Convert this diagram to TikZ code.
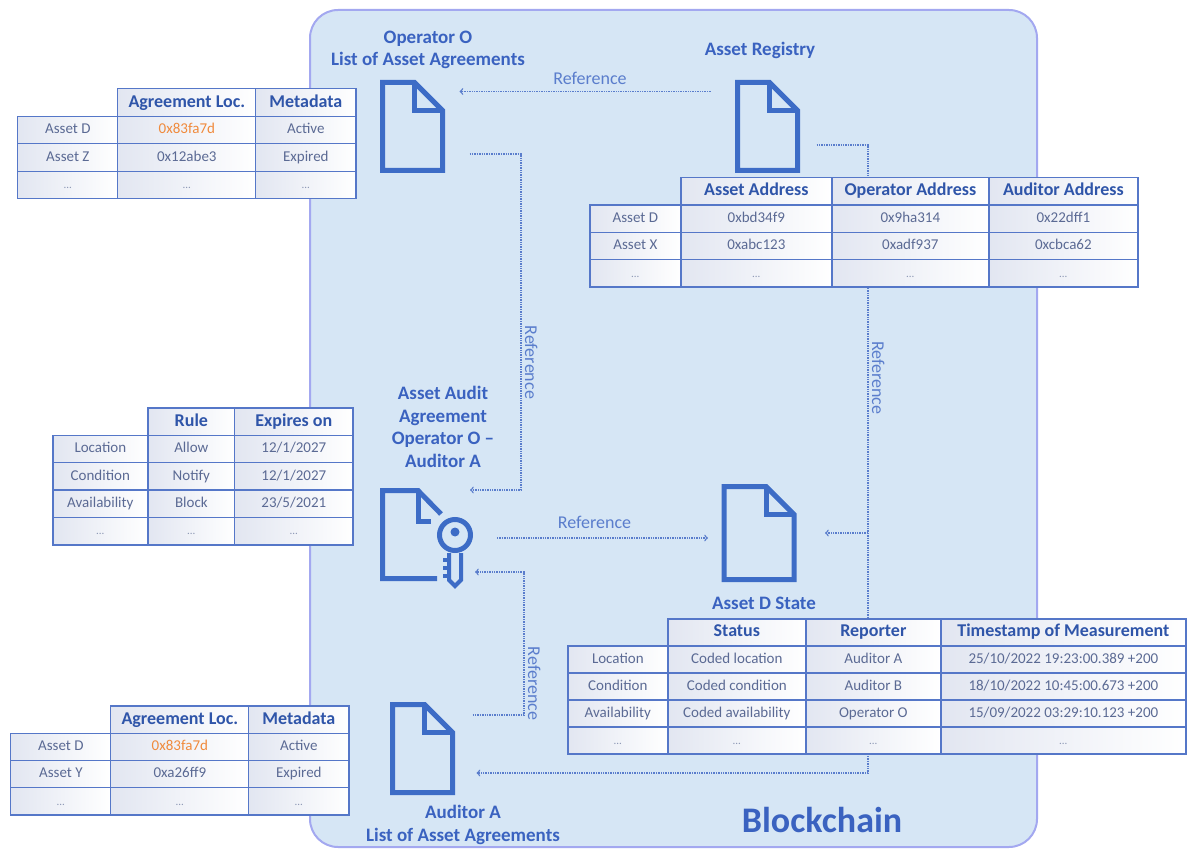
\documentclass[tikz,border=0pt]{standalone}
\usepackage{fontspec}
\setmainfont{Carlito}
\usetikzlibrary{matrix}

\definecolor{chainfill}{HTML}{D6E6F5}
\definecolor{chainedge}{HTML}{A3A8F0}
\definecolor{docblue}{HTML}{3D6CC6}
\definecolor{labelblue}{HTML}{3A62C0}
\definecolor{refblue}{HTML}{5A7DCC}
\definecolor{tabline}{HTML}{5577C8}
\definecolor{headtext}{HTML}{2F55A9}
\definecolor{celltext}{HTML}{5B6A94}
\definecolor{cellshade}{HTML}{E2E6F1}
\definecolor{accent}{HTML}{F08A3C}

\begin{document}
\begin{tikzpicture}[x=1pt,y=-1pt,
  docline/.style={draw=docblue,line width=5pt,line join=miter},
  docbox/.style={minimum width=60pt,minimum height=88pt,inner sep=0pt,outer sep=0pt},
  refline/.style={draw=refblue,line width=1.4pt,densely dotted},
  reftext/.style={text=refblue,font=\fontsize{18}{21}\selectfont},
  doctitle/.style={text=labelblue,font=\bfseries\fontsize{19}{22.5}\selectfont,align=center},
  cell/.style={draw=tabline,line width=1.3pt,left color=cellshade,right color=white,inner sep=0pt,anchor=center,
    text height=10.5pt,text depth=3pt,text=celltext,font=\fontsize{15}{18}\selectfont},
  infotable/.style={matrix of nodes,inner sep=0pt,anchor=north west,column sep=-1.3pt,row sep=-1.3pt,nodes={cell},
    row 1/.style={nodes={text=headtext,text height=12.5pt,text depth=3.5pt,font=\bfseries\fontsize{18}{21}\selectfont}}},
  dots/.style={nodes={font=\fontsize{11}{13}\selectfont,text=celltext!70}},
]
\useasboundingbox (0,0) rectangle (1189,850);
\draw[fill=chainfill,draw=chainedge,line width=2pt,rounded corners=28pt] (310,10) rectangle (1037,847);

% documents
\node[docbox] (opdoc) at (412.5,126.5) {};
\node[docbox] (regdoc) at (767.5,126.5) {};
\node[docbox,minimum width=70pt,minimum height=93pt] (statedoc) at (759,533) {};
\node[docbox] (audoc) at (422.5,748.5) {};
\node[docbox,minimum width=85pt,minimum height=100pt] (keydoc) at (422.5,538) {};
\coordinate (bus) at (868,533);

% references
\draw[refline,->,shorten <=27pt,shorten >=17pt] ([yshift=35pt]regdoc.west) -- node[reftext,above=3pt] {Reference} ([yshift=35pt]opdoc.east);
\draw[refline,->,shorten <=27pt,shorten >=5pt] ([yshift=-27.5pt]opdoc.east) -- ++(78.5,0) |- node[reftext,pos=.31,rotate=-90,anchor=south] {Reference} ([yshift=48pt]keydoc.east);
\draw[refline,->,shorten <=32pt,shorten >=16pt] (keydoc.east) -- node[reftext,above=5pt] {Reference} (keydoc.east -| statedoc.west);
\draw[refline,->,shorten <=19pt,shorten >=24pt] ([yshift=-18.5pt]regdoc.east) -| node[reftext,pos=.8,rotate=-90,anchor=south] {Reference} (bus) |- ([yshift=-24.5pt]audoc.east);
\draw[refline,->,shorten >=31pt] (bus) -- (bus -| statedoc.east);
\draw[refline,->,shorten <=20pt,shorten >=10pt] ([yshift=33.5pt]audoc.east) -- ++(71.5,0) |- node[reftext,pos=.11,rotate=-90,anchor=south] {Reference} ([yshift=-34pt]keydoc.east);

% icons
\foreach \d in {opdoc,regdoc,statedoc,audoc} {
  \draw[docline] (\d.south west) |- ([xshift=-28pt]\d.north east) -- ([yshift=-28pt]\d.north east) -- (\d.south east) -- cycle;
  \draw[docline] ([xshift=-28pt]\d.north east) |- ([yshift=-28pt]\d.north east);
}
\draw[docline] (437,578.5) -- (382.5,578.5) -- (382.5,490.5) -- (418,490.5) -- (441,514);
\draw[docline] (418,490.5) -- (418,521) -- (431,521);
\draw[docblue,line width=5pt] (455,535) circle (15.5);
\fill[docblue] (455,532) circle (4.5);
\draw[docblue,line width=4pt,line join=miter] (449,553) -- (449,580) -- (455,586) -- (461,580) -- (461,553);
\foreach \t in {558,566,574} \fill[docblue] (443,\t) rectangle (449,\t+4);

% labels
\node[doctitle] (oplabel) at (428,50) {Operator O\\List of Asset Agreements};
\node[doctitle] (reglabel) at (760,50) {Asset Registry};
\node[doctitle] (keylabel) at (443,427) {Asset Audit\\Agreement\\Operator O --\\Auditor A};
\node[doctitle] (statelabel) at (764,603) {Asset D State};
\node[doctitle] (aulabel) at (463,825) {Auditor A\\List of Asset Agreements};
\node[text=labelblue,font=\bfseries\fontsize{36}{40}\selectfont] (chainlabel) at (822,820) {Blockchain};

% tables
\matrix[infotable,nodes={minimum height=27.5pt},row 4/.style={dots},
  column 1/.style={nodes={minimum width=100pt}},column 2/.style={nodes={minimum width=138pt}},column 3/.style={nodes={minimum width=100pt}}] (optab) at (17,88) {
 & Agreement Loc. & Metadata \\
Asset D & \textcolor{accent}{0x83fa7d} & Active \\
Asset Z & 0x12abe3 & Expired \\
... & ... & ... \\
};
\matrix[infotable,nodes={minimum height=27.3pt},row 4/.style={dots},
  column 1/.style={nodes={minimum width=91pt}},column 2/.style={nodes={minimum width=151pt}},column 3/.style={nodes={minimum width=157pt}},column 4/.style={nodes={minimum width=149pt}}] (regtab) at (589,177) {
 & Asset Address & Operator Address & Auditor Address \\
Asset D & 0xbd34f9 & 0x9ha314 & 0x22dff1 \\
Asset X & 0xabc123 & 0xadf937 & 0xcbca62 \\
... & ... & ... & ... \\
};
\matrix[infotable,nodes={minimum height=27.4pt},row 5/.style={dots},
  column 1/.style={nodes={minimum width=95pt}},column 2/.style={nodes={minimum width=87pt}},column 3/.style={nodes={minimum width=118pt}}] (ruletab) at (52,407) {
 & Rule & Expires on \\
Location & Allow & 12/1/2027 \\
Condition & Notify & 12/1/2027 \\
Availability & Block & 23/5/2021 \\
... & ... & ... \\
};
\matrix[infotable,nodes={minimum height=27pt},row 5/.style={dots},
  column 1/.style={nodes={minimum width=100pt}},column 2/.style={nodes={minimum width=138pt}},column 3/.style={nodes={minimum width=135pt}},column 4/.style={nodes={minimum width=245pt}}] (statetab) at (567,618) {
 & Status & Reporter & Timestamp of Measurement \\
Location & Coded location & Auditor A & 25/10/2022 19:23:00.389 +200 \\
Condition & Coded condition & Auditor B & 18/10/2022 10:45:00.673 +200 \\
Availability & Coded availability & Operator O & 15/09/2022 03:29:10.123 +200 \\
... & ... & ... & ... \\
};
\matrix[infotable,nodes={minimum height=27.3pt},row 4/.style={dots},
  column 1/.style={nodes={minimum width=100pt}},column 2/.style={nodes={minimum width=138pt}},column 3/.style={nodes={minimum width=100pt}}] (autab) at (10,705) {
 & Agreement Loc. & Metadata \\
Asset D & \textcolor{accent}{0x83fa7d} & Active \\
Asset Y & 0xa26ff9 & Expired \\
... & ... & ... \\
};
\end{tikzpicture}
\end{document}
